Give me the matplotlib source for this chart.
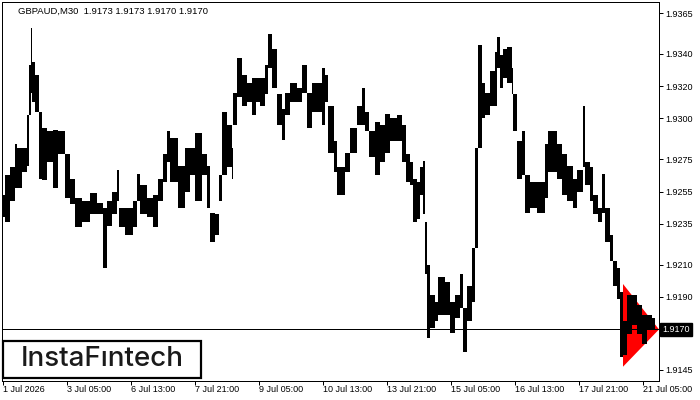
import numpy as np
import matplotlib
matplotlib.use('Agg')
import matplotlib.pyplot as plt
from matplotlib.patches import Polygon, Rectangle

plt.rcParams['font.family'] = ['Liberation Sans', 'DejaVu Sans']

symbol_info = 'GBPAUD,M30  1.9173 1.9173 1.9170 1.9170'
last_price = 1.9170

# price ranges, grouped in short runs of M30 bars
# (bar 0 = 1 Jul 21:00)
seg_start = [0, 2, 7, 12, 14, 19, 24, 26, 28, 29, 32, 36, 39, 44, 50, 55, 62, 67, 72, 79,
             87, 94, 100, 104, 109, 114, 116, 122, 130, 134, 137, 144, 150, 155, 160, 164, 167, 175, 182, 187,
             192, 199, 204, 207, 212, 216, 219, 224, 229, 230, 234, 239, 244, 249, 253, 257, 262, 265, 269, 274,
             279, 282, 287, 294, 299, 304, 309, 314, 319, 322, 325, 331, 334, 342, 347, 354, 359, 362, 366, 372,
             377, 382, 387, 394, 399, 403, 407, 410, 414, 417, 420, 422, 424, 427, 432, 435, 442, 447, 452, 457,
             460, 464, 469, 472, 475, 479, 482, 487, 492, 494, 497, 500, 504, 509, 510, 514, 519, 522, 527, 534,
             542, 545, 554, 559, 564, 570, 574, 580, 582, 587, 590, 595, 599, 602, 607, 610, 614, 617, 620, 624,
             629, 634, 639, 644, 649]
seg_end = 652
seg_high = [1.9253, 1.9265, 1.9270, 1.9284, 1.9282, 1.9282, 1.9302, 1.9333, 1.9356, 1.9335,
            1.9327, 1.9304, 1.9294, 1.9292, 1.9293, 1.9292, 1.9278, 1.9263, 1.9251, 1.9249,
            1.9254, 1.9248, 1.9245, 1.9249, 1.9255, 1.9268, 1.9245, 1.9245, 1.9249, 1.9266,
            1.9259, 1.9251, 1.9253, 1.9263, 1.9278, 1.9292, 1.9288, 1.9271, 1.9282, 1.9282,
            1.9291, 1.9278, 1.9271, 1.9242, 1.9241, 1.9265, 1.9304, 1.9296, 1.9282, 1.9316,
            1.9337, 1.9327, 1.9322, 1.9325, 1.9325, 1.9325, 1.9333, 1.9352, 1.9343, 1.9315,
            1.9306, 1.9316, 1.9322, 1.9319, 1.9333, 1.9316, 1.9322, 1.9322, 1.9331, 1.9327,
            1.9308, 1.9286, 1.9270, 1.9279, 1.9294, 1.9308, 1.9319, 1.9304, 1.9292, 1.9298,
            1.9296, 1.9303, 1.9300, 1.9302, 1.9296, 1.9278, 1.9273, 1.9263, 1.9261, 1.9270,
            1.9274, 1.9236, 1.9210, 1.9191, 1.9187, 1.9202, 1.9199, 1.9187, 1.9191, 1.9204,
            1.9183, 1.9197, 1.9220, 1.9282, 1.9345, 1.9322, 1.9316, 1.9329, 1.9341, 1.9350,
            1.9339, 1.9343, 1.9344, 1.9331, 1.9315, 1.9286, 1.9292, 1.9265, 1.9261, 1.9261,
            1.9284, 1.9292, 1.9284, 1.9278, 1.9271, 1.9263, 1.9268, 1.9308, 1.9273, 1.9270,
            1.9253, 1.9245, 1.9266, 1.9245, 1.9228, 1.9212, 1.9208, 1.9193, 1.9175, 1.9191,
            1.9191, 1.9185, 1.9179, 1.9179, 1.9177]
seg_low = [1.9239, 1.9236, 1.9249, 1.9257, 1.9257, 1.9267, 1.9271, 1.9302, 1.9316, 1.9310,
           1.9304, 1.9263, 1.9262, 1.9273, 1.9257, 1.9278, 1.9251, 1.9247, 1.9233, 1.9236,
           1.9241, 1.9241, 1.9208, 1.9234, 1.9241, 1.9249, 1.9233, 1.9228, 1.9233, 1.9249,
           1.9241, 1.9239, 1.9233, 1.9249, 1.9261, 1.9273, 1.9261, 1.9245, 1.9255, 1.9265,
           1.9249, 1.9265, 1.9245, 1.9224, 1.9228, 1.9249, 1.9265, 1.9270, 1.9263, 1.9296,
           1.9313, 1.9308, 1.9310, 1.9302, 1.9310, 1.9308, 1.9315, 1.9331, 1.9319, 1.9296,
           1.9287, 1.9302, 1.9310, 1.9310, 1.9316, 1.9294, 1.9304, 1.9304, 1.9296, 1.9310,
           1.9279, 1.9267, 1.9253, 1.9267, 1.9279, 1.9296, 1.9296, 1.9292, 1.9276, 1.9265,
           1.9273, 1.9279, 1.9286, 1.9286, 1.9273, 1.9261, 1.9259, 1.9236, 1.9238, 1.9253,
           1.9241, 1.9204, 1.9165, 1.9171, 1.9175, 1.9179, 1.9179, 1.9168, 1.9177, 1.9183,
           1.9156, 1.9175, 1.9187, 1.9220, 1.9282, 1.9300, 1.9302, 1.9308, 1.9308, 1.9331,
           1.9319, 1.9325, 1.9322, 1.9315, 1.9292, 1.9263, 1.9265, 1.9242, 1.9245, 1.9242,
           1.9251, 1.9267, 1.9263, 1.9253, 1.9249, 1.9245, 1.9255, 1.9270, 1.9259, 1.9249,
           1.9241, 1.9236, 1.9242, 1.9224, 1.9212, 1.9197, 1.9189, 1.9153, 1.9154, 1.9167,
           1.9173, 1.9167, 1.9161, 1.9170, 1.9170]

time_pos = [0, 64, 128, 192, 256, 320, 384, 448, 512, 576, 640]
time_labels = ['1 Jul 2026', '3 Jul 05:00', '6 Jul 13:00', '7 Jul 21:00', '9 Jul 05:00',
               '10 Jul 13:00', '13 Jul 21:00', '15 Jul 05:00', '16 Jul 13:00', '17 Jul 21:00',
               '21 Jul 05:00']
price_ticks = [1.9365, 1.9340, 1.9320, 1.9300, 1.9275, 1.9255, 1.9235, 1.9210, 1.9190, 1.9170, 1.9145]

# bearish symmetrical triangle (pattern marker)
tri_start, tri_end = 620, 656
tri_top, tri_bottom, tri_apex = 1.9198, 1.9147, 1.9170

starts = np.array(seg_start)
widths = np.diff(np.append(starts, seg_end))
high = np.array(seg_high)
low = np.array(seg_low)

fig = plt.figure(figsize=(7, 4), dpi=100)
ax = fig.add_axes([2 / 700, 19 / 400, 657 / 700, 379 / 400])
ax.set_xlim(-1, 656)
ax.set_ylim(1.91382, 1.93718)

px = 0.72
for s in ax.spines.values():
    s.set_linewidth(px)
    s.set_color('black')

tri = Polygon([(tri_start, tri_top), (tri_start, tri_bottom), (tri_end, tri_apex)],
              closed=True, fc='#ff0000', ec='none', zorder=1, clip_on=False)
ax.add_patch(tri)

ax.axhline(last_price, color='black', lw=px, zorder=1.5)

ax.bar(starts, high - low, bottom=low, width=widths, align='edge',
       color='black', linewidth=0, zorder=2)

ax.yaxis.tick_right()
ax.set_yticks(price_ticks)
# the current-price box covers the 1.9170 label
ax.set_yticklabels(['' if p == last_price else '%.4f' % p for p in price_ticks])
ax.tick_params(axis='y', direction='out', length=4 * px, width=px, pad=1.5, labelsize=6.5)
ax.set_xticks(time_pos)
ax.set_xticklabels(time_labels)
ax.tick_params(axis='x', direction='out', length=4 * px, width=px, pad=0, labelsize=6.5)
for lbl in ax.get_xticklabels():
    lbl.set_ha('left')

ax.annotate('%.4f' % last_price, xy=(1, last_price), xycoords=('axes fraction', 'data'),
            xytext=(2.5, 0), textcoords='offset points', ha='left', va='center',
            color='white', fontsize=6.5,
            bbox=dict(boxstyle='square,pad=0.25', fc='black', ec='black'),
            zorder=10, annotation_clip=False)

fig.text(18 / 700, 1 - 11 / 400, symbol_info, fontsize=6.8, ha='left', va='center')

logo_box = Rectangle((3 / 700, 22 / 400), 198 / 700, 37 / 400, transform=fig.transFigure,
                     fc='white', ec='black', lw=1.6, zorder=5)
fig.add_artist(logo_box)
fig.text(102 / 700, 1 - 359.5 / 400, 'InstaFıntech', ha='center', va='center',
         fontsize=20, family=['Inter', 'DejaVu Sans'], weight='medium', color='#1a1a1a', zorder=6)

fig.savefig('out.png', dpi=100)
